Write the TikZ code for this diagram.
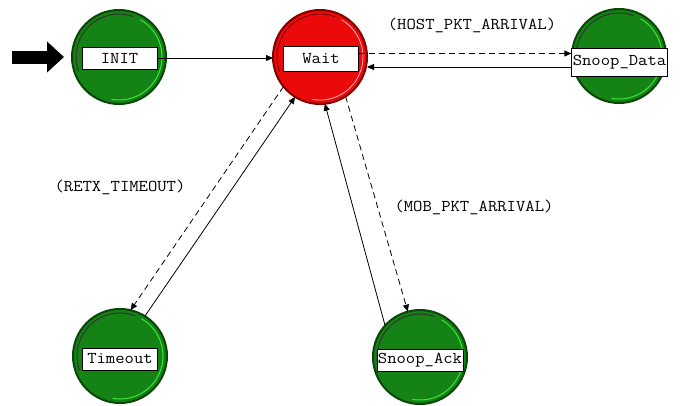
\documentclass[tikz,border=0pt]{standalone}
\usepackage{fontspec}
\setmonofont{Latin Modern Mono}[FakeStretch=1.1]
\usetikzlibrary{arrows.meta}
\definecolor{stgreen}{RGB}{20,130,20}
\definecolor{stgdark}{RGB}{10,70,10}
\definecolor{stglight}{RGB}{60,230,60}
\definecolor{stred}{RGB}{235,10,10}
\definecolor{strdark}{RGB}{130,0,0}
\definecolor{strlight}{RGB}{255,170,190}
\tikzset{
  gstate/.style={circle, minimum size=94pt, inner sep=0pt, outer sep=0pt, fill=stgreen, draw=stgdark, line width=2pt},
  rstate/.style={circle, minimum size=94pt, inner sep=0pt, outer sep=0pt, fill=stred, draw=strdark, line width=2pt},
  slabel/.style={draw=black, fill=white, line width=0.8pt, inner sep=2pt, minimum width=75pt, minimum height=22pt, font=\ttfamily\fontsize{16.5}{16.5}\selectfont},
  tlabel/.style={inner sep=0pt, font=\ttfamily\fontsize{16.5}{16.5}\selectfont},
  tip/.style={-{Triangle[length=7pt,width=6pt]}},
  solidedge/.style={tip, line width=0.8pt},
  dashedge/.style={tip, line width=0.8pt, dash pattern=on 6pt off 4pt},
  hl/.style={draw=stglight, line width=1pt},
  dk/.style={draw=black!80, line width=1pt}
}
\begin{document}
\begin{tikzpicture}[x=1pt,y=-1pt]
\useasboundingbox (0,0) rectangle (681,405);
% states
\node[gstate] (init) at (119,57) {};
\node[rstate] (wait) at (320,57) {};
\node[gstate] (sd) at (619,56) {};
\node[gstate] (timeout) at (120,356) {};
\node[gstate] (sack) at (420,357) {};
% rim highlights
\foreach \n in {init,sd,timeout,sack}{
  \draw[hl] ([shift={(-60:43)}]\n.center) arc[start angle=-60,end angle=100,radius=43];
  \draw[dk] ([shift={(-70:43)}]\n.center) arc[start angle=-70,end angle=-200,radius=43];
}
\draw[draw=strlight, line width=0.8pt] ([shift={(-60:43)}]wait.center) arc[start angle=-60,end angle=100,radius=43];
\draw[draw=strdark, line width=1pt] ([shift={(-70:43)}]wait.center) arc[start angle=-70,end angle=-200,radius=43];
% labels
\node[slabel] (initL) at (119.5,58) {INIT};
\node[slabel, minimum height=25pt] (waitL) at (321,58.5) {Wait};
\node[slabel, minimum height=28pt, inner sep=1pt] (sdL) at (619.5,62) {Snoop\_Data};
\node[slabel] (timeoutL) at (120,359) {Timeout};
\node[slabel, inner sep=1pt] (sackL) at (420,360) {Snoop\_Ack};
% start arrow
\coordinate (startpt) at (12,57);
\draw[-{Triangle[length=17pt,width=30pt]}, line width=13pt, shorten >=8pt] (startpt) -- (init.west);
% transitions
\draw[solidedge] (initL.east) -- (wait.west |- initL.east);
\draw[dashedge] ([yshift=5pt]waitL.east) coordinate (a1) -- (sdL.west |- a1);
\draw[solidedge] ([yshift=-5pt]sdL.west) coordinate (b1) -- (wait.east |- b1);
\draw[dashedge] (wait.219) -- (timeout.77);
\draw[solidedge] (timeout.58) -- (wait.238);
\draw[dashedge] (wait.303) -- (sack.105);
\draw[solidedge] (sack.138) -- (wait.276);
% edge labels
\node[tlabel] (lhost) at (472,25) {(HOST\_PKT\_ARRIVAL)};
\node[tlabel] (lretx) at (120,187) {(RETX\_TIMEOUT)};
\node[tlabel] (lmob) at (474,207) {(MOB\_PKT\_ARRIVAL)};
\end{tikzpicture}
\end{document}
